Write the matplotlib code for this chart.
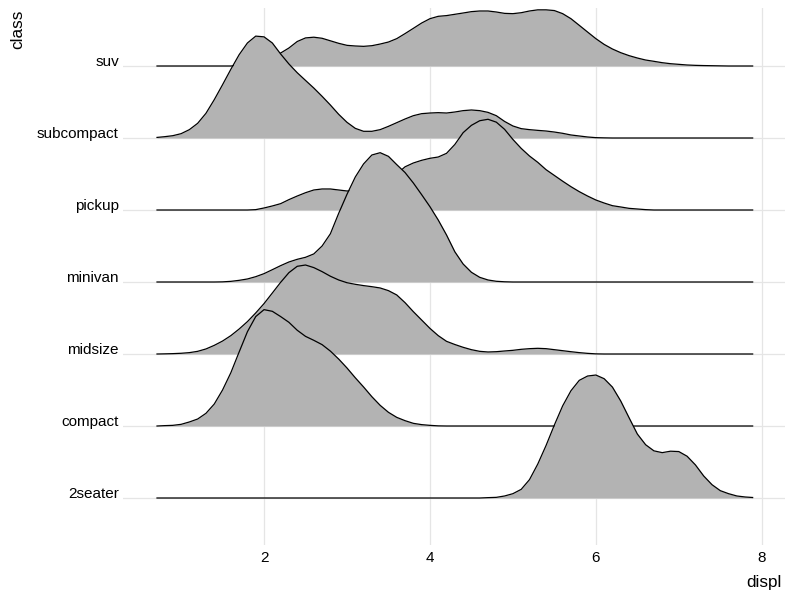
import numpy as np
import matplotlib
matplotlib.use("Agg")
import matplotlib.pyplot as plt

plt.rcParams['font.family'] = ['Liberation Sans', 'DejaVu Sans']

# ------------------------------------------------------
# ridge heights (1.0 = one row spacing)

classes = ['2seater', 'compact', 'midsize', 'minivan', 'pickup', 'subcompact', 'suv']

displ = [0.71, 0.8, 0.9,
         1.0, 1.1, 1.2, 1.3, 1.4, 1.5, 1.6, 1.7, 1.8, 1.9,
         2.0, 2.1, 2.2, 2.3, 2.4, 2.5, 2.6, 2.7, 2.8, 2.9,
         3.0, 3.1, 3.2, 3.3, 3.4, 3.5, 3.6, 3.7, 3.8, 3.9,
         4.0, 4.1, 4.2, 4.3, 4.4, 4.5, 4.6, 4.7, 4.8, 4.9,
         5.0, 5.1, 5.2, 5.3, 5.4, 5.5, 5.6, 5.7, 5.8, 5.9,
         6.0, 6.1, 6.2, 6.3, 6.4, 6.5, 6.6, 6.7, 6.8, 6.9,
         7.0, 7.1, 7.2, 7.3, 7.4, 7.5, 7.6, 7.7, 7.8, 7.89]

h_suv = [0, 0, 0,
         0, 0, 0, 0, 0, 0, 0, 0.01, 0.025, 0.05,
         0.085, 0.13, 0.18, 0.25, 0.34, 0.39, 0.40, 0.385, 0.35, 0.315,
         0.287, 0.278, 0.273, 0.282, 0.305, 0.333, 0.38, 0.45, 0.523, 0.597,
         0.657, 0.69, 0.70, 0.718, 0.736, 0.755, 0.764, 0.764, 0.75, 0.731,
         0.727, 0.74, 0.764, 0.78, 0.78, 0.77, 0.727, 0.657, 0.565, 0.472,
         0.38, 0.30, 0.236, 0.185, 0.144, 0.111, 0.083, 0.065, 0.046, 0.032,
         0.023, 0.014, 0.009, 0.006, 0.004, 0.002, 0, 0, 0, 0]

h_subcompact = [0.008, 0.018, 0.032,
                0.06, 0.116, 0.204, 0.343, 0.532, 0.74, 0.954, 1.157, 1.32, 1.415,
                1.405, 1.32, 1.167, 1.028, 0.907, 0.80, 0.694, 0.579, 0.458, 0.329,
                0.218, 0.134, 0.093, 0.093, 0.116, 0.162, 0.213, 0.264, 0.31, 0.338,
                0.347, 0.352, 0.347, 0.361, 0.38, 0.389, 0.38, 0.356, 0.31, 0.23,
                0.167, 0.13, 0.116, 0.106, 0.097, 0.083, 0.065, 0.042, 0.028, 0.014,
                0.005, 0.002] + [0] * 18

h_pickup = [0, 0, 0,
            0, 0, 0, 0, 0, 0, 0, 0, 0, 0.005,
            0.028, 0.056, 0.088, 0.144, 0.194, 0.24, 0.278, 0.292, 0.292, 0.278,
            0.264, 0.27, 0.29, 0.32, 0.37, 0.43, 0.50, 0.60, 0.653, 0.69,
            0.718, 0.736, 0.787, 0.91, 1.074, 1.176, 1.24, 1.26, 1.22, 1.12,
            0.98, 0.856, 0.75, 0.662, 0.56, 0.48, 0.40, 0.324, 0.255, 0.194,
            0.139, 0.097, 0.06, 0.042, 0.023, 0.014, 0.005] + [0] * 13

h_minivan = [0, 0, 0,
             0, 0, 0, 0, 0, 0.002, 0.009, 0.023, 0.042, 0.074,
             0.116, 0.171, 0.227, 0.278, 0.315, 0.343, 0.39, 0.50, 0.67, 0.954,
             1.218, 1.458, 1.64, 1.764, 1.796, 1.745, 1.63, 1.52, 1.375, 1.213,
             1.046, 0.861, 0.653, 0.42, 0.25, 0.135, 0.065, 0.028, 0.01, 0.003] + [0] * 30

h_midsize = [0, 0.002, 0.005,
             0.01, 0.019, 0.037, 0.07, 0.12, 0.18, 0.255, 0.347, 0.45, 0.57,
             0.70, 0.847, 0.995, 1.13, 1.218, 1.236, 1.20, 1.144, 1.08, 1.028,
             0.99, 0.968, 0.95, 0.935, 0.917, 0.88, 0.82, 0.713, 0.588, 0.472,
             0.356, 0.255, 0.176, 0.132, 0.093, 0.06, 0.037, 0.028, 0.032, 0.042,
             0.051, 0.065, 0.074, 0.079, 0.074, 0.06, 0.046, 0.032, 0.019, 0.009,
             0.002] + [0] * 19

h_compact = [0, 0.005, 0.009,
             0.023, 0.056, 0.097, 0.176, 0.305, 0.50, 0.74, 1.028, 1.31, 1.52,
             1.616, 1.593, 1.52, 1.44, 1.33, 1.245, 1.19, 1.13, 1.04, 0.93,
             0.806, 0.67, 0.542, 0.407, 0.287, 0.19, 0.12, 0.074, 0.037, 0.019,
             0.009, 0.002] + [0] * 38

h_2seater = [0] * 40 + [0.005, 0.009, 0.028,
             0.06, 0.12, 0.255, 0.472, 0.73, 1.014, 1.28, 1.49, 1.634, 1.694,
             1.708, 1.657, 1.54, 1.347, 1.116, 0.889, 0.74, 0.655, 0.63, 0.65,
             0.645, 0.58, 0.46, 0.306, 0.185, 0.102, 0.06, 0.028, 0.014, 0.007]

heights = [h_2seater, h_compact, h_midsize, h_minivan, h_pickup, h_subcompact, h_suv]

x_ticks = [2, 4, 6, 8]

# ------------------------------------------------------

fig = plt.figure(figsize=(8, 6.02), dpi=100)
ax = fig.add_axes([123 / 800, 1 - 545 / 602, (785 - 123) / 800, (545 - 8) / 602])

x = np.array(displ)
# top row first so lower rows overlap it
for i in range(len(classes) - 1, -1, -1):
    base = i + 1
    y = base + np.array(heights[i])
    z = 10 + (len(classes) - i) * 2
    ax.fill_between(x, base, y, color='#b3b3b3', lw=0, zorder=z)
    ax.plot(x, y, color='black', lw=0.9, zorder=z + 1)

ax.set_xlim(0.30, 8.28)
ax.set_ylim(1 - 47 / 72, 7 + 58 / 72)
ax.set_xticks(x_ticks)
ax.set_xticklabels([str(t) for t in x_ticks])
ax.set_yticks(range(1, len(classes) + 1))
ax.set_yticklabels(classes, va='baseline')
ax.tick_params(length=0, labelsize=11, colors='black')
ax.tick_params(axis='x', pad=4)
ax.tick_params(axis='y', pad=3)
ax.grid(True, color='#e5e5e5', lw=0.9, zorder=0)
ax.set_axisbelow(True)
for s in ax.spines.values():
    s.set_visible(False)

fig.text(18 / 800, 1 - 10 / 602, 'class', rotation=90, ha='center', va='top', fontsize=12.3)
fig.text(782 / 800, 1 - 575 / 602, 'displ', ha='right', va='top', fontsize=12.3)

fig.savefig('out.png', dpi=100)
